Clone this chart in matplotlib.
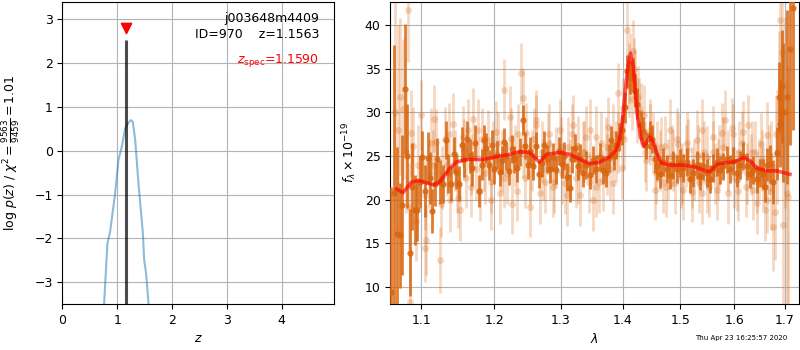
import numpy as np
import matplotlib
matplotlib.use('Agg')
import matplotlib.pyplot as plt
from matplotlib.ticker import FixedLocator, NullLocator, FormatStrFormatter

plt.rcParams['font.size'] = 9

# p(z) curve
pz_z = [0.74, 0.761, 0.821, 0.870, 0.962, 1.022, 1.083, 1.144, 1.205, 1.248, 1.284,
        1.327, 1.387, 1.467, 1.491, 1.527, 1.569, 1.60]
pz_logp = [-4.0, -3.48, -2.11, -1.85, -0.97, -0.21, 0.09, 0.51, 0.64, 0.70, 0.66,
           0.25, -0.74, -1.88, -2.49, -2.80, -3.48, -4.2]
z_best = 1.1563
z_spec = 1.1590
pz_peak = 2.53

# binned spectrum (dark)
dark_wave = [1.0612, 1.0646, 1.0684, 1.0718, 1.0744, 1.0787, 1.0817, 1.0847, 1.0882, 1.0913,
             1.0943, 1.0978, 1.1013, 1.1048, 1.1084, 1.1119, 1.1141, 1.1177, 1.1213, 1.1244,
             1.1289, 1.1325, 1.1362, 1.1398, 1.1434, 1.1471, 1.1508, 1.1544, 1.1581, 1.1618,
             1.1656, 1.1693, 1.1730, 1.1787, 1.1824, 1.1862, 1.1891, 1.1929, 1.1967, 1.2005,
             1.2044, 1.2082, 1.2121, 1.2145, 1.2180, 1.2219, 1.2258, 1.2297, 1.2337, 1.2375,
             1.2419, 1.2454, 1.2494, 1.2534, 1.2574, 1.2624, 1.2665, 1.2705, 1.2746, 1.2786,
             1.2827, 1.2879, 1.2931, 1.2972, 1.3014, 1.3055, 1.3097, 1.3139, 1.3181, 1.3223,
             1.3266, 1.3308, 1.3351, 1.3404, 1.3457, 1.3511, 1.3565, 1.3619, 1.3674, 1.3728,
             1.3772, 1.3811, 1.3855, 1.3894, 1.3939, 1.3978, 1.4033, 1.4073, 1.4118, 1.4163,
             1.4203, 1.4243, 1.4305, 1.4345, 1.4390, 1.4460, 1.4501, 1.4547, 1.4588, 1.4635,
             1.4693, 1.4752, 1.4811, 1.4870, 1.4930, 1.4989, 1.5049, 1.5109, 1.5170, 1.5231,
             1.5292, 1.5353, 1.5414, 1.5476, 1.5538, 1.5600, 1.5663, 1.5725, 1.5788, 1.5852,
             1.5915, 1.5978, 1.6042, 1.6106, 1.6171, 1.6236, 1.6301, 1.6366, 1.6431, 1.6497,
             1.6550, 1.6596, 1.6643, 1.6696, 1.6763, 1.6830, 1.6870, 1.6897, 1.6931, 1.6965,
             1.7033, 1.7101, 1.7156]
dark_flux = [9.4, 20.7, 16.0, 15.9, 19.4, 32.7, 25.0, 13.9, 21.5, 18.8,
             18.8, 22.0, 24.9, 21.0, 24.8, 22.5, 18.7, 21.8, 24.6, 22.0,
             21.8, 26.8, 23.0, 21.8, 25.2, 23.2, 21.8, 26.3, 24.6, 27.0,
             25.0, 23.6, 26.5, 21.0, 24.0, 26.8, 25.9, 24.0, 26.3, 23.5,
             25.1, 23.2, 24.5, 26.6, 25.0, 23.3, 25.8, 24.6, 23.6, 25.5,
             29.1, 26.2, 24.0, 25.6, 23.8, 26.2, 22.9, 24.2, 26.3, 24.7,
             23.5, 24.9, 23.4, 25.6, 24.1, 25.0, 22.6, 21.3, 24.6, 25.9,
             23.9, 24.8, 23.1, 24.0, 22.8, 24.5, 23.5, 24.9, 23.4, 23.0,
             24.8, 26.8, 25.0, 26.3, 27.2, 28.0, 30.6, 34.7, 34.0, 34.3,
             32.5, 31.0, 28.5, 27.9, 26.2, 27.4, 26.9, 24.7, 23.8, 22.9,
             24.3, 23.5, 22.8, 24.0, 23.5, 24.2, 23.6, 24.3, 22.4, 23.1,
             24.0, 22.7, 23.9, 23.0, 22.4, 23.6, 24.3, 23.4, 23.8, 24.6,
             23.5, 24.4, 23.0, 24.0, 25.0, 23.8, 22.9, 23.4, 22.4, 23.0,
             22.9, 21.5, 24.0, 24.1, 22.0, 25.3, 31.8, 28.7, 33.0, 30.0,
             31.8, 37.3, 42.0]
dark_err = [12.0, 17.0, 10.0, 6.0, 8.0, 7.5, 6.0, 5.0, 5.0, 4.0,
            3.5, 3.0, 3.0, 3.0, 3.0, 3.0, 2.5, 2.5, 2.5, 2.5,
            2.2, 2.2, 2.2, 2.0, 2.0, 2.0, 2.0, 2.0, 2.0, 2.0,
            2.0, 2.0, 2.0, 1.8, 1.8, 1.8, 1.7, 1.7, 1.7, 1.7,
            1.6, 1.6, 1.6, 1.6, 1.6, 1.6, 1.6, 1.6, 1.6, 1.6,
            1.7, 1.6, 1.6, 1.6, 1.6, 1.6, 1.6, 1.6, 1.6, 1.6,
            1.6, 1.6, 1.6, 1.6, 1.6, 1.6, 1.6, 1.6, 1.6, 1.6,
            1.6, 1.6, 1.6, 1.6, 1.6, 1.6, 1.6, 1.6, 1.6, 1.6,
            1.6, 1.6, 1.6, 1.6, 1.6, 1.7, 1.8, 1.9, 1.9, 1.9,
            1.9, 1.8, 1.7, 1.6, 1.6, 1.6, 1.6, 1.6, 1.6, 1.6,
            1.6, 1.6, 1.6, 1.6, 1.6, 1.6, 1.6, 1.6, 1.6, 1.6,
            1.6, 1.6, 1.6, 1.6, 1.6, 1.6, 1.6, 1.6, 1.6, 1.6,
            1.6, 1.6, 1.6, 1.6, 1.6, 1.6, 1.6, 1.6, 1.6, 1.6,
            1.7, 1.8, 1.9, 2.2, 2.5, 3.0, 4.0, 5.0, 6.5, 8.0,
            10.0, 11.0, 14.0]

# unbinned spectrum (light)
light_wave = [1.0654, 1.0697, 1.0718, 1.0761, 1.0796, 1.0826, 1.0834, 1.0847, 1.0869, 1.0891,
              1.0926, 1.0961, 1.1000, 1.1044, 1.1066, 1.1101, 1.1133, 1.1168, 1.1199, 1.1244,
              1.1280, 1.1312, 1.1343, 1.1380, 1.1425, 1.1457, 1.1494, 1.1517, 1.1563, 1.1600,
              1.1637, 1.1674, 1.1702, 1.1749, 1.1796, 1.1834, 1.1871, 1.1914, 1.1952, 1.1990,
              1.2034, 1.2082, 1.2116, 1.2145, 1.2188, 1.2228, 1.2267, 1.2307, 1.2350, 1.2400,
              1.2419, 1.2449, 1.2474, 1.2524, 1.2564, 1.2594, 1.2624, 1.2675, 1.2715, 1.2756,
              1.2802, 1.2838, 1.2879, 1.2920, 1.2983, 1.3024, 1.3060, 1.3113, 1.3149, 1.3191,
              1.3233, 1.3270, 1.3308, 1.3351, 1.3404, 1.3446, 1.3511, 1.3565, 1.3608, 1.3674,
              1.3717, 1.3756, 1.3794, 1.3838, 1.3883, 1.3922, 1.3978, 1.4016, 1.4073, 1.4096,
              1.4118, 1.4146, 1.4174, 1.4203, 1.4231, 1.4259, 1.4316, 1.4356, 1.4402, 1.4460,
              1.4507, 1.4547, 1.4588, 1.4635, 1.4682, 1.4723, 1.4770, 1.4811, 1.4858, 1.4900,
              1.4960, 1.5001, 1.5049, 1.5097, 1.5140, 1.5200, 1.5243, 1.5292, 1.5341, 1.5384,
              1.5427, 1.5476, 1.5526, 1.5588, 1.5625, 1.5663, 1.5713, 1.5757, 1.5820, 1.5884,
              1.5947, 1.5992, 1.6042, 1.6093, 1.6171, 1.6223, 1.6268, 1.6314, 1.6366, 1.6392,
              1.6431, 1.6471, 1.6517, 1.6563, 1.6596, 1.6629, 1.6683, 1.6723, 1.6750, 1.6790,
              1.6830, 1.6870, 1.6897, 1.6931, 1.6965, 1.7000, 1.7033, 1.7067,
              1.105, 1.116, 1.126, 1.137, 1.148, 1.158, 1.168, 1.177, 1.186, 1.195,
              1.205, 1.214, 1.224, 1.233, 1.243, 1.253, 1.262, 1.272, 1.281, 1.290,
              1.300, 1.309, 1.318, 1.327, 1.337, 1.346, 1.355, 1.364, 1.374, 1.383,
              1.392, 1.401, 1.410, 1.419, 1.428, 1.437, 1.447, 1.456, 1.465, 1.474,
              1.484, 1.493, 1.502, 1.512, 1.521, 1.531, 1.540, 1.549, 1.559, 1.568,
              1.578, 1.587, 1.597, 1.606, 1.615, 1.625, 1.634, 1.644, 1.653, 1.663,
              1.672, 1.681]
light_flux = [30.0, 28.0, 31.8, 30.4, 25.5, 41.8, 19.2, 8.3, 27.6, 26.1,
              17.5, 24.0, 29.7, 14.5, 15.4, 23.0, 26.5, 29.3, 26.6, 13.1,
              22.5, 27.0, 24.0, 19.9, 28.7, 24.5, 20.2, 18.8, 27.2, 22.5,
              28.0, 24.0, 29.3, 23.5, 21.0, 27.0, 23.0, 26.8, 22.0, 25.5,
              27.8, 20.7, 24.5, 32.6, 23.0, 29.5, 19.5, 25.0, 27.5, 34.5,
              31.6, 22.5, 27.6, 19.2, 24.5, 27.0, 29.1, 20.7, 25.5, 22.0,
              26.4, 23.5, 21.5, 24.8, 28.0, 23.0, 21.9, 26.0, 23.5, 28.5,
              22.5, 26.1, 20.5, 25.5, 27.2, 22.0, 19.9, 27.2, 22.0, 22.2,
              26.0, 28.3, 23.5, 21.9, 25.5, 32.2, 23.6, 27.0, 39.5, 33.0,
              35.6, 31.5, 37.1, 33.7, 30.0, 31.8, 29.9, 29.7, 24.5, 28.0,
              26.5, 21.1, 25.5, 24.5, 22.0, 26.1, 23.5, 28.0, 24.5, 21.9,
              26.4, 22.5, 21.1, 25.0, 25.7, 20.9, 23.5, 26.8, 22.0, 20.7,
              25.5, 24.9, 21.5, 27.2, 23.0, 21.1, 25.0, 27.6, 29.1, 20.7,
              28.2, 22.5, 22.2, 25.5, 27.8, 21.5, 28.5, 24.0, 21.1, 25.5,
              19.6, 23.5, 26.4, 22.5, 18.8, 27.4, 24.5, 21.0, 16.8, 18.6,
              25.5, 32.4, 40.6, 36.9, 17.1, 30.0, 20.7, 20.3,
              20.5, 24.0, 19.5, 27.5, 22.0, 25.8, 21.5, 28.0, 24.5, 20.0,
              26.5, 22.5, 27.0, 21.0, 26.0, 23.0, 28.5, 23.5, 27.5, 22.0,
              26.0, 20.5, 27.5, 23.0, 25.5, 28.0, 21.5, 26.5, 24.0, 27.5,
              26.5, 30.5, 34.5, 35.0, 30.5, 25.5, 27.5, 23.0, 26.0, 21.5,
              25.0, 27.0, 23.0, 26.5, 22.5, 25.0, 28.0, 22.0, 25.5, 23.5,
              26.0, 24.5, 27.5, 21.0, 26.5, 23.0, 25.5, 22.0, 24.5, 20.0,
              25.0, 27.5]
light_err = [14.0, 12.0, 9.0, 8.0, 7.0, 6.0, 5.0, 6.0, 5.0, 4.5,
             4.5, 4.5, 4.0, 4.0, 4.0, 4.0, 4.0, 3.8, 3.8, 3.8,
             3.6, 3.6, 3.6, 3.6, 3.5, 3.5, 3.5, 3.5, 3.5, 3.5,
             3.5, 3.5, 3.5, 3.5, 3.5, 3.5, 3.5, 3.5, 3.5, 3.5,
             3.5, 3.5, 3.5, 3.5, 3.5, 3.5, 3.5, 3.5, 3.5, 3.5,
             3.5, 3.5, 3.5, 3.5, 3.5, 3.5, 3.5, 3.5, 3.5, 3.5,
             3.5, 3.5, 3.5, 3.5, 3.5, 3.5, 3.5, 3.5, 3.5, 3.5,
             3.5, 3.5, 3.5, 3.5, 3.5, 3.5, 3.5, 3.5, 3.5, 3.5,
             3.5, 3.5, 3.5, 3.5, 3.5, 3.5, 3.5, 3.5, 3.5, 3.5,
             3.5, 3.5, 3.5, 3.5, 3.5, 3.5, 3.5, 3.5, 3.5, 3.5,
             3.5, 3.5, 3.5, 3.5, 3.5, 3.5, 3.5, 3.5, 3.5, 3.5,
             3.5, 3.5, 3.5, 3.5, 3.5, 3.5, 3.5, 3.5, 3.5, 3.5,
             3.5, 3.5, 3.5, 3.5, 3.5, 3.5, 3.5, 3.5, 3.5, 3.5,
             3.5, 3.5, 3.5, 3.5, 3.5, 3.5, 3.5, 3.5, 3.5, 3.5,
             3.5, 3.5, 3.5, 3.5, 3.5, 3.8, 4.0, 4.5, 5.0, 5.5,
             6.0, 7.0, 8.0, 9.0, 10.0, 11.0, 13.0, 15.0,
             4.0, 4.0, 3.8, 3.6, 3.5, 3.5, 3.5, 3.5, 3.5, 3.5,
             3.5, 3.5, 3.5, 3.5, 3.5, 3.5, 3.5, 3.5, 3.5, 3.5,
             3.5, 3.5, 3.5, 3.5, 3.5, 3.5, 3.5, 3.5, 3.5, 3.5,
             3.5, 3.5, 3.5, 3.5, 3.5, 3.5, 3.5, 3.5, 3.5, 3.5,
             3.5, 3.5, 3.5, 3.5, 3.5, 3.5, 3.5, 3.5, 3.5, 3.5,
             3.5, 3.5, 3.5, 3.5, 3.5, 3.5, 3.5, 3.5, 3.5, 3.8,
             4.0, 4.5]

# best-fit model
model_wave = [1.068, 1.076, 1.087, 1.096, 1.104, 1.116, 1.124, 1.136, 1.147, 1.161,
              1.184, 1.203, 1.223, 1.238, 1.252, 1.267, 1.278, 1.298, 1.314, 1.330,
              1.346, 1.362, 1.378, 1.389, 1.395, 1.400, 1.404, 1.409, 1.413, 1.417,
              1.421, 1.425, 1.430, 1.435, 1.440, 1.446, 1.452, 1.458, 1.466, 1.481,
              1.505, 1.523, 1.541, 1.554, 1.566, 1.579, 1.598, 1.617, 1.630, 1.643,
              1.663, 1.683, 1.710]
model_flux = [21.2, 20.8, 22.0, 22.2, 22.0, 21.7, 22.0, 23.4, 24.3, 24.6,
              24.6, 24.9, 25.2, 25.5, 25.4, 24.3, 25.2, 25.4, 25.2, 24.6,
              24.1, 24.3, 24.9, 25.7, 27.0, 29.5, 32.5, 35.5, 36.8, 35.5,
              32.5, 29.5, 27.3, 26.1, 26.5, 27.2, 26.6, 25.4, 24.2, 23.95,
              23.95, 23.8, 23.4, 23.2, 24.0, 24.2, 24.3, 24.8, 24.5, 23.6,
              23.3, 23.3, 22.9]

wave_ticks = [1.1, 1.2, 1.3, 1.4, 1.5, 1.6, 1.7]
spec_color = '#d9650f'

fig = plt.figure(figsize=(8, 3.5), dpi=100)
ax = fig.add_axes([0.078, 0.131, 0.340, 0.864])

ax.plot(pz_z, pz_logp, color='tab:blue', alpha=0.5, lw=1.5)
ax.vlines(z_best, -10, pz_peak, color='k', alpha=0.7, lw=2.2)
ax.scatter([z_spec], [2.79], marker='v', color='red', s=55, zorder=5)
ax.set_xlim(0, 4.96)
ax.set_ylim(-3.5, 3.4)
ax.set_xticks([0, 1, 2, 3, 4])
ax.grid(color='0.7')
ax.set_axisbelow(True)
ax.set_xlabel('$z$')
ax.set_ylabel(r'$\log\,p(z)$ / $\chi^2=\frac{9563}{9459}=1.01$')
ax.yaxis.set_label_coords(-0.15, 0.5)
ax.text(0.945, 0.965, 'j003648m4409\nID=970    z=1.1563', ha='right', va='top',
        transform=ax.transAxes, linespacing=1.3)
ax.text(0.945, 0.835, r'$z_\mathrm{spec}$=1.1590', ha='right', va='top',
        color='red', transform=ax.transAxes)

ax = fig.add_axes([0.488, 0.131, 0.511, 0.864])
ax.errorbar(light_wave, light_flux, yerr=light_err, fmt='o', color=spec_color,
            alpha=0.25, ms=5, elinewidth=2, mew=0, zorder=2)
ax.errorbar(dark_wave, dark_flux, yerr=dark_err, fmt='o', color=spec_color,
            alpha=0.85, ms=4.5, elinewidth=2, mew=0, zorder=3)
ax.plot(model_wave, model_flux, color='red', alpha=0.65, lw=2.6, zorder=4)
ax.set_xscale('log')
ax.set_xlim(1.06, 1.729)
ax.set_ylim(8.0, 42.7)
ax.xaxis.set_major_locator(FixedLocator(wave_ticks))
ax.xaxis.set_major_formatter(FormatStrFormatter('%.1f'))
ax.xaxis.set_minor_locator(NullLocator())
ax.grid(color='0.7')
ax.set_axisbelow(True)
ax.set_xlabel(r'$\lambda$')
ax.set_ylabel(r'$f_\lambda \times 10^{-19}$')

fig.text(0.984, 0.025, 'Thu Apr 23 16:25:57 2020', ha='right', va='bottom', fontsize=5)

fig.savefig('out.png', dpi=100)
